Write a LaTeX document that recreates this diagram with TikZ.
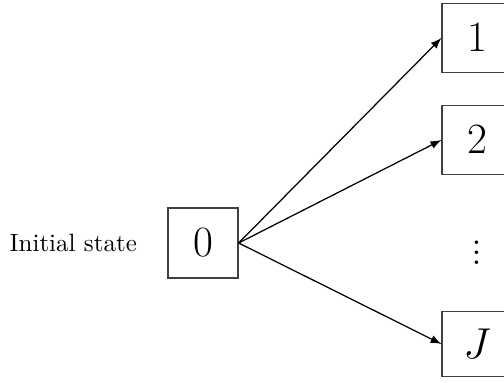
\documentclass[tikz,border=0pt]{standalone}
\usetikzlibrary{positioning,arrows}

\begin{document}
\begin{tikzpicture}[x=0.4pt,y=0.4pt,inner sep=0mm]

\tikzset{statebox/.style={draw=black!75,line width=0.5pt,minimum width=28pt,minimum height=27.5pt,font=\LARGE}}

\useasboundingbox (0,0) rectangle (504,382);

\coordinate (c0) at (203,139); %start
\coordinate (c1) at (477,344); %gora
\coordinate (c2) at (477,242); %drugi
\coordinate (c3) at (477,137); %kropki
\coordinate (c4) at (477,38); %dol

\node [statebox,minimum height=28pt] (s0) at (c0) {$0$};
\node [left=12pt of s0] (init) {Initial state};
\node [statebox] (s1) at (c1) {$1$};
\node [statebox] (s2) at (c2) {$2$};
\node [font=\LARGE] (dots) at (c3) {$\vdots$};
\node [statebox,minimum height=26pt] (sJ) at (c4) {$J$};

\draw [-latex,line width=0.5pt] (s0.east) -- (s1.west);
\draw [-latex,line width=0.5pt] (s0.east) -- (s2.west);
\draw [-latex,line width=0.5pt] (s0.east) -- (sJ.west);
\end{tikzpicture}
\end{document}
